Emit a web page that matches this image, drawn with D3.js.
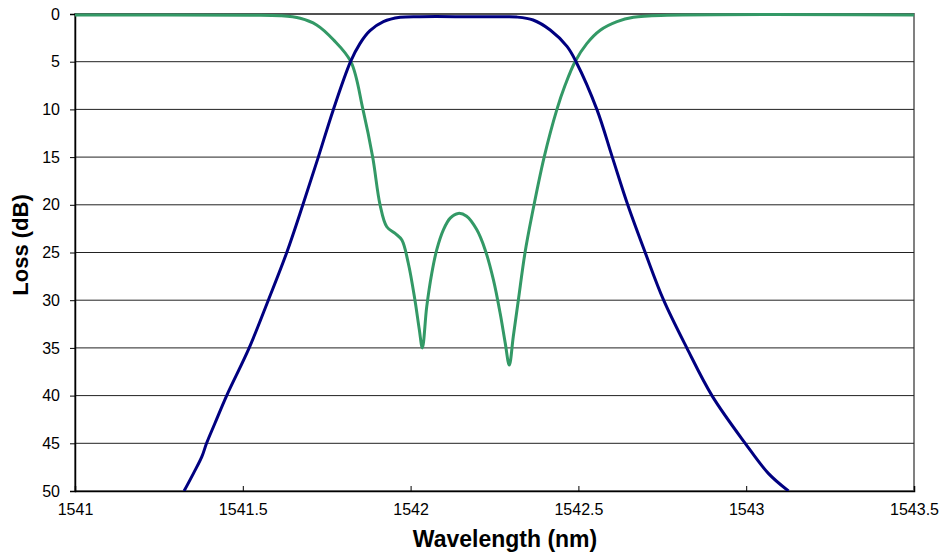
<!DOCTYPE html>
<html>
<head>
<meta charset="utf-8">
<script src="https://cdn.jsdelivr.net/npm/d3@7"></script>
<style>
  body { margin: 0; background: #fff; }
  text { font-family: "Liberation Sans", Arial, sans-serif; }
</style>
</head>
<body>
<div id="chart"></div>
<script>
var svgWidth = 951;
var svgHeight = 552;

var margin = { top: 14, right: 37, bottom: 61, left: 75 };

var chartWidth = svgWidth - margin.left - margin.right;
var chartHeight = svgHeight - margin.top - margin.bottom;

// x tick values (nm) and y tick values (dB)
var xTicks = [1541, 1541.5, 1542, 1542.5, 1543, 1543.5];
var yTicks = [0, 5, 10, 15, 20, 25, 30, 35, 40, 45, 50];

// blue trace: wavelength / loss
var blueWl = [1541.325, 1541.353, 1541.378, 1541.392, 1541.417, 1541.452, 1541.519, 1541.576,
  1541.631, 1541.679, 1541.725, 1541.770, 1541.821, 1541.849, 1541.879, 1541.919, 1541.969,
  1542.028, 1542.165, 1542.267, 1542.316, 1542.365, 1542.416, 1542.466, 1542.493, 1542.555,
  1542.601, 1542.647, 1542.699, 1542.754, 1542.823, 1542.898, 1542.997, 1543.066, 1543.126];
var blueLoss = [50, 48.15, 46.4, 45, 42.9, 40, 35, 30,
  25, 20, 15, 10, 5, 3.1, 1.75, 0.8, 0.35,
  0.28, 0.28, 0.3, 0.32, 0.63, 1.68, 3.4, 5, 10,
  15, 20, 25, 30, 35, 40, 45, 48.15, 50];

// green trace: wavelength / loss
var greenWl = [1541.0, 1541.522, 1541.611, 1541.671, 1541.720, 1541.770, 1541.822,
  1541.858, 1541.887, 1541.909, 1541.929, 1541.954, 1541.974, 1541.993, 1542.013, 1542.026,
  1542.035, 1542.048, 1542.063, 1542.078, 1542.098, 1542.118, 1542.142, 1542.167, 1542.197,
  1542.222, 1542.247, 1542.267, 1542.282, 1542.294, 1542.306, 1542.321, 1542.341, 1542.361,
  1542.398, 1542.436, 1542.460, 1542.490, 1542.525, 1542.565, 1542.615, 1542.664,
  1542.764, 1543.5];
var greenLoss = [0.1, 0.12, 0.18, 0.45, 1.15, 2.7, 5,
  10, 15, 20, 22.3, 23, 23.7, 26.1, 30, 33.1,
  35, 30.7, 27.2, 24.7, 22.6, 21.4, 20.9, 21.2, 22.6,
  24.7, 27.9, 31.4, 34.5, 36.8, 33.8, 30, 25, 21.2,
  15, 10, 7.5, 5, 3.1, 1.7, 0.8, 0.35,
  0.14, 0.1];

var blueData = blueWl.map((w, i) => ({ wl: w, loss: blueLoss[i] }));
var greenData = greenWl.map((w, i) => ({ wl: w, loss: greenLoss[i] }));

var svg = d3.select("#chart")
  .append("svg")
  .attr("width", svgWidth)
  .attr("height", svgHeight);

var chartGroup = svg.append("g")
  .attr("transform", `translate(${margin.left}, ${margin.top})`);

var xScale = d3.scaleLinear()
  .domain([1541, 1543.5])
  .range([0, chartWidth]);

var yScale = d3.scaleLinear()
  .domain([0, 50])
  .range([0, chartHeight]);

// plot area border
chartGroup.append("rect")
  .attr("width", chartWidth)
  .attr("height", chartHeight)
  .attr("fill", "none")
  .attr("stroke", "#808080")
  .attr("stroke-width", 2);

// horizontal gridlines
chartGroup.append("g")
  .selectAll("line")
  .data(yTicks.slice(0, -1))
  .enter()
  .append("line")
  .attr("x1", 0)
  .attr("x2", chartWidth)
  .attr("y1", d => yScale(d))
  .attr("y2", d => yScale(d))
  .attr("stroke", "#222")
  .attr("stroke-width", 1);

var leftAxis = d3.axisLeft(yScale).tickValues(yTicks).tickSize(5).tickPadding(10);
var bottomAxis = d3.axisBottom(xScale).tickValues(xTicks)
  .tickFormat(d3.format("")).tickSize(-5).tickPadding(13);

var gx = chartGroup.append("g")
  .attr("transform", `translate(0, ${chartHeight})`)
  .call(bottomAxis);

var gy = chartGroup.append("g")
  .call(leftAxis);

[gx, gy].forEach(g => {
  g.select(".domain").attr("stroke", "#000").attr("stroke-width", 1.5);
  g.selectAll(".tick line").attr("stroke", "#000");
  g.selectAll("text")
    .attr("fill", "#000")
    .style("font-size", "16px")
    .style("font-family", "'Liberation Sans', Arial, sans-serif");
});

// clip the traces to the plot area
chartGroup.append("clipPath")
  .attr("id", "plotClip")
  .append("rect")
  .attr("y", -2)
  .attr("width", chartWidth)
  .attr("height", chartHeight + 2);

var line = d3.line()
  .x(d => xScale(d.wl))
  .y(d => yScale(d.loss))
  .curve(d3.curveCatmullRom.alpha(0.5));

chartGroup.append("path")
  .datum(greenData)
  .attr("clip-path", "url(#plotClip)")
  .attr("d", line)
  .attr("fill", "none")
  .attr("stroke", "#339966")
  .attr("stroke-width", 3);

chartGroup.append("path")
  .datum(blueData)
  .attr("clip-path", "url(#plotClip)")
  .attr("d", line)
  .attr("fill", "none")
  .attr("stroke", "#000080")
  .attr("stroke-width", 3);

// axis titles
svg.append("text")
  .attr("x", 505)
  .attr("y", 547)
  .attr("text-anchor", "middle")
  .style("font-size", "23px")
  .style("font-weight", "bold")
  .text("Wavelength (nm)");

svg.append("text")
  .attr("transform", "translate(28, 245) rotate(-90)")
  .attr("text-anchor", "middle")
  .style("font-size", "22px")
  .style("font-weight", "bold")
  .text("Loss (dB)");
</script>
</body>
</html>
